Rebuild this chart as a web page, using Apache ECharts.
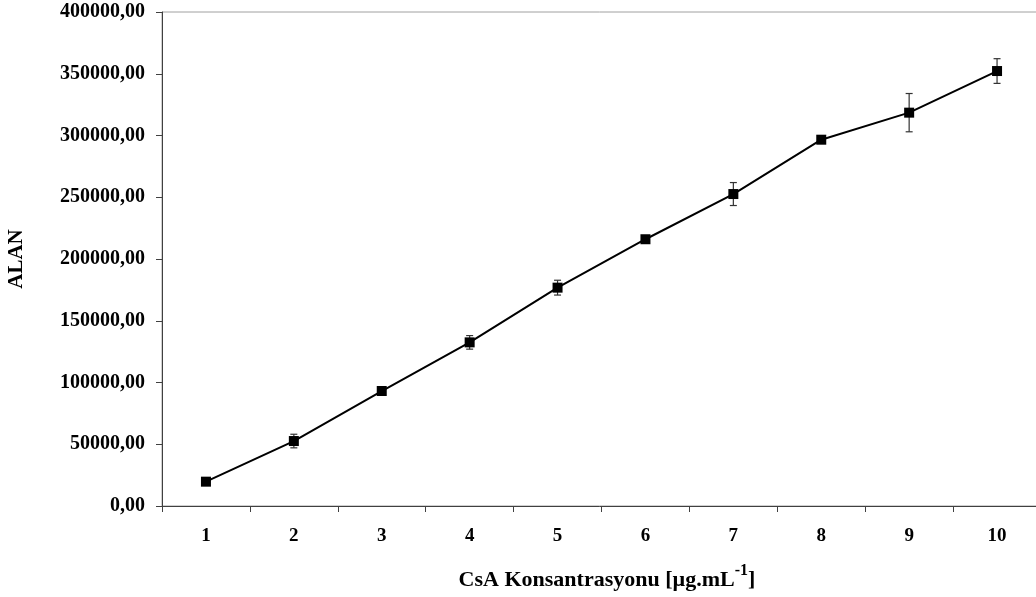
<!DOCTYPE html>
<html>
<head>
<meta charset="utf-8">
<script src="https://cdn.jsdelivr.net/npm/echarts@6/dist/echarts.min.js"></script>
<style>
html,body{margin:0;padding:0;background:#fff;}
#chart{width:1036px;height:597px;}
</style>
</head>
<body>
<div id="chart"></div>
<script>
const categories = ['1','2','3','4','5','6','7','8','9','10'];
const areaValues = [19700, 52600, 93100, 132500, 176800, 216000, 252600, 296600, 318500, 352200];
const areaErrors = [1500, 5500, 2000, 5500, 6000, 2000, 9300, 2000, 15500, 10000];
const yTicks = { min: 0, max: 400000, interval: 50000 };

const errorData = categories.map((c, i) => [i, areaValues[i] - areaErrors[i], areaValues[i] + areaErrors[i]]);

const chart = echarts.init(document.getElementById('chart'));
const fontFam = '"Liberation Serif", "Times New Roman", serif';
chart.setOption({
  animation: false,
  backgroundColor: '#ffffff',
  grid: { left: 162, width: 879, top: 12, height: 494, containLabel: false, outerBoundsMode: 'none',
    show: true, borderColor: '#a0a0a0', borderWidth: 1, backgroundColor: 'transparent' },
  xAxis: {
    type: 'category',
    data: categories,
    boundaryGap: true,
    axisLine: { lineStyle: { color: '#404040', width: 1 } },
    axisTick: { show: true, length: 6, lineStyle: { color: '#404040' } },
    axisLabel: { margin: 21, color: '#000', fontFamily: fontFam, fontWeight: 'bold', fontSize: 19 },
    splitLine: { show: false },
    name: 'CsA Konsantrasyonu [µg.mL{sup|-1}]',
    nameLocation: 'middle',
    nameGap: 57,
    nameTextStyle: {
      color: '#000', fontFamily: fontFam, fontWeight: 'bold', fontSize: 22, lineHeight: 30,
      padding: [0, 0, 0, 11],
      rich: { sup: { fontFamily: fontFam, fontWeight: 'bold', fontSize: 16, verticalAlign: 'top', lineHeight: 34, color: '#000' } }
    }
  },
  yAxis: {
    type: 'value',
    min: yTicks.min, max: yTicks.max, interval: yTicks.interval,
    axisLine: { show: true, lineStyle: { color: '#404040', width: 1 } },
    axisTick: { show: true, length: 6, lineStyle: { color: '#404040' } },
    axisLabel: { margin: 17, color: '#000', fontFamily: fontFam, fontWeight: 'bold', fontSize: 20,
      formatter: v => v + ',00' },
    splitLine: { show: false },
    name: 'ALAN',
    nameLocation: 'middle',
    nameGap: 135,
    nameTextStyle: { color: '#000', fontFamily: fontFam, fontWeight: 'bold', fontSize: 21 }
  },
  series: [
    {
      type: 'custom',
      z: 1,
      data: errorData,
      renderItem: function (params, api) {
        const x = api.value(0);
        const lo = api.coord([x, api.value(1)]);
        const hi = api.coord([x, api.value(2)]);
        const w = 3.5;
        const style = { stroke: '#333', lineWidth: 1.2 };
        return {
          type: 'group',
          children: [
            { type: 'line', shape: { x1: hi[0], y1: hi[1], x2: lo[0], y2: lo[1] }, style },
            { type: 'line', shape: { x1: hi[0] - w, y1: hi[1], x2: hi[0] + w, y2: hi[1] }, style },
            { type: 'line', shape: { x1: lo[0] - w, y1: lo[1], x2: lo[0] + w, y2: lo[1] }, style }
          ]
        };
      }
    },
    {
      type: 'line',
      z: 2,
      data: areaValues,
      symbol: 'rect',
      symbolSize: 10,
      lineStyle: { color: '#000', width: 2 },
      itemStyle: { color: '#000' }
    }
  ]
});
</script>
</body>
</html>
